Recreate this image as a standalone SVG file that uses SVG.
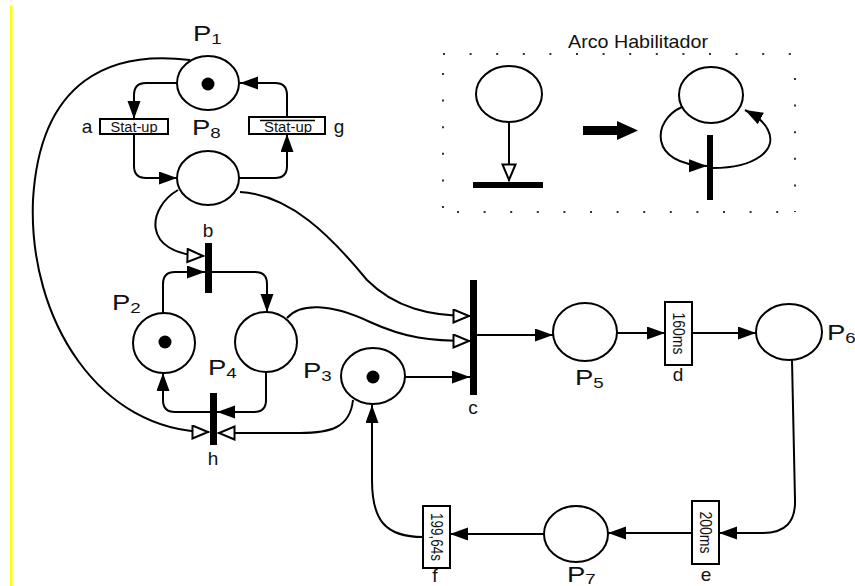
<svg xmlns="http://www.w3.org/2000/svg" width="855" height="586" viewBox="0 0 855 586">
<style>
.pl{fill:#fff;stroke:#000;stroke-width:2}
.tk{fill:#000}
.bar{fill:#000}
.box{fill:#fff;stroke:#000;stroke-width:2}
.ln{fill:none;stroke:#000;stroke-width:2}
.fa{marker-end:url(#fa)}
.ha{marker-end:url(#ha)}
.lab{font-family:"Liberation Sans",Arial,sans-serif;font-size:22px;fill:#111}
.sub{font-size:15px}
.tl{font-family:"Liberation Sans",Arial,sans-serif;font-size:19px;fill:#111;text-anchor:middle}
.st{font-family:"Liberation Sans",Arial,sans-serif;font-size:14px;fill:#111;text-anchor:middle}
.rt{font-family:"Liberation Sans",Arial,sans-serif;font-size:16px;fill:#111;text-anchor:middle}
.dot{fill:none;stroke:#333;stroke-width:2;stroke-dasharray:2 24.6}
</style>
<defs>
<marker id="fa" markerUnits="userSpaceOnUse" markerWidth="19" markerHeight="14" refX="18" refY="6.5" orient="auto">
<path d="M0,0 L18,6.5 L0,13 z" fill="#000"/>
</marker>
<marker id="ha" markerUnits="userSpaceOnUse" markerWidth="20" markerHeight="16" refX="18" refY="7.5" orient="auto">
<path d="M1.5,1 L17,7.5 L1.5,14 z" fill="#fff" stroke="#000" stroke-width="2"/>
</marker>
</defs>
<rect x="0" y="0" width="855" height="586" fill="#fff"/>
<rect x="10" y="5" width="2.5" height="581" fill="#ffff00"/>

<g id="connectors">
<path class="ln fa" d="M177,83 L146,83 Q134,83 134,95 L134,119"/>
<path class="ln fa" d="M134,134 L134,166 Q134,178 146,178 L177,178"/>
<path class="ln fa" d="M239,178 L275,178 Q287,178 287,166 L287,134"/>
<path class="ln fa" d="M287,117 L287,95 Q287,83 275,83 L240,83"/>
<path class="ln ha" d="M190,60 C110,50 40,80 33,200 C28,320 100,432 209,432"/>
<path class="ln ha" d="M178,190 C148,207 140,254 204,256"/>
<path class="ln fa" d="M163,313 L163,284 Q163,272 175,272 L205,272"/>
<path class="ln fa" d="M212,272 L255,272 Q267,272 267,284 L267,312"/>
<path class="ln fa" d="M266,372 L266,400 Q266,412 254,412 L217,412"/>
<path class="ln fa" d="M210,412 L175,412 Q163,412 163,400 L163,373"/>
<path class="ln ha" d="M353,400 C350,428 330,433 300,433 L218,433"/>
<path class="ln ha" d="M240,192 C290,195 330,235 367,280 C395,308 430,316 470,316"/>
<path class="ln ha" d="M287,318 C300,303 330,303 370,322 C405,338 430,341 470,341"/>
<path class="ln fa" d="M405,377 L470,377"/>
<path class="ln fa" d="M477,335 L553,335"/>
<path class="ln fa" d="M617,333 L665,333"/>
<path class="ln fa" d="M692,333 L756,333"/>
<path class="ln fa" d="M792,360 L795,500 Q796,533 763,533 L719,533"/>
<path class="ln fa" d="M692,533 L608,533"/>
<path class="ln fa" d="M544,534 L450,534"/>
<path class="ln fa" d="M423,537 C385,537 372,520 372,480 L372,405"/>
</g>

<g id="P1">
<ellipse class="pl" cx="208" cy="83" rx="31" ry="27"/>
<circle class="tk" cx="208" cy="84" r="6.5"/>
<text class="lab" transform="translate(193,41) scale(1.25,1)">P<tspan class="sub" dy="3">1</tspan></text>
</g>
<g id="P8">
<ellipse class="pl" cx="208" cy="178" rx="31" ry="27"/>
<text class="lab" transform="translate(192,135) scale(1.25,1)">P<tspan class="sub" dy="3">8</tspan></text>
</g>
<g id="a">
<rect class="box" x="100" y="119" width="68" height="15"/>
<text class="st" x="134" y="131.5" textLength="47" lengthAdjust="spacingAndGlyphs">Stat-up</text>
<text class="tl" x="87" y="133">a</text>
</g>
<g id="g">
<rect class="box" x="249" y="117" width="76" height="17"/>
<line x1="260" y1="120.5" x2="315" y2="120.5" stroke="#000" stroke-width="1.5"/>
<text class="st" x="288" y="132" textLength="48" lengthAdjust="spacingAndGlyphs">Stat-up</text>
<text class="tl" x="339" y="133">g</text>
</g>
<g id="b">
<rect class="bar" x="205" y="243" width="7" height="50"/>
<text class="tl" x="208" y="237">b</text>
</g>
<g id="P2">
<ellipse class="pl" cx="164" cy="343" rx="31" ry="30"/>
<circle class="tk" cx="165" cy="342" r="6.5"/>
<text class="lab" transform="translate(112,310) scale(1.25,1)">P<tspan class="sub" dy="3">2</tspan></text>
</g>
<g id="P4">
<ellipse class="pl" cx="266" cy="342" rx="31" ry="30"/>
<text class="lab" transform="translate(208,375) scale(1.25,1)">P<tspan class="sub" dy="3">4</tspan></text>
</g>
<g id="h">
<rect class="bar" x="210" y="393" width="7" height="52"/>
<text class="tl" x="213" y="465">h</text>
</g>
<g id="P3">
<ellipse class="pl" cx="373" cy="376" rx="32" ry="28"/>
<circle class="tk" cx="373" cy="377" r="6.5"/>
<text class="lab" transform="translate(303,378) scale(1.25,1)">P<tspan class="sub" dy="3">3</tspan></text>
</g>
<g id="c">
<rect class="bar" x="470" y="280" width="7" height="115"/>
<text class="tl" x="473" y="414">c</text>
</g>
<g id="P5">
<ellipse class="pl" cx="585" cy="332" rx="32" ry="29"/>
<text class="lab" transform="translate(575,385) scale(1.25,1)">P<tspan class="sub" dy="3">5</tspan></text>
</g>
<g id="d">
<rect class="box" x="665" y="302" width="27" height="63"/>
<text class="rt" transform="translate(678.5,333.5) rotate(90)" x="0" y="5.5" textLength="42" lengthAdjust="spacingAndGlyphs">160ms</text>
<text class="tl" x="678" y="381">d</text>
</g>
<g id="P6">
<ellipse class="pl" cx="789" cy="332" rx="33" ry="28"/>
<text class="lab" transform="translate(827,340) scale(1.25,1)">P<tspan class="sub" dy="3">6</tspan></text>
</g>
<g id="e">
<rect class="box" x="692" y="501" width="27" height="63"/>
<text class="rt" transform="translate(705.5,532.5) rotate(90)" x="0" y="5.5" textLength="42" lengthAdjust="spacingAndGlyphs">200ms</text>
<text class="tl" x="706" y="581">e</text>
</g>
<g id="P7">
<ellipse class="pl" cx="576" cy="534" rx="32" ry="28"/>
<text class="lab" transform="translate(567,582) scale(1.25,1)">P<tspan class="sub" dy="2">7</tspan></text>
</g>
<g id="f">
<rect class="box" x="423" y="506" width="27" height="62"/>
<text class="rt" transform="translate(436.5,537) rotate(90)" x="0" y="5.5" textLength="48" lengthAdjust="spacingAndGlyphs">199,64s</text>
<text class="tl" x="435" y="582">f</text>
</g>

<g id="legend">
<text x="638" y="48" font-family="Liberation Sans, Arial, sans-serif" font-size="19" fill="#111" text-anchor="middle" textLength="140" lengthAdjust="spacingAndGlyphs">Arco Habilitador</text>
<path class="dot" d="M443,54 L796,54"/>
<path class="dot" d="M457,212 L796,212"/>
<path class="dot" d="M443,73 L443,212"/>
<path class="dot" d="M795,78 L795,212"/>
<ellipse class="pl" cx="509" cy="94" rx="33" ry="28"/>
<path class="ln ha" d="M509,122 L509,181"/>
<rect class="bar" x="473" y="182" width="70" height="6"/>
<rect class="bar" x="583" y="126" width="36" height="9"/>
<polygon class="bar" points="617,121 638,130.5 617,140"/>
<ellipse class="pl" cx="711" cy="95" rx="32" ry="28"/>
<rect class="bar" x="707" y="135" width="6" height="65"/>
<path class="ln fa" d="M682,107 C652,120 648,165 707,166"/>
<path class="ln fa" d="M713,168 C755,168 778,150 768,130 C764,122 758,117 745,110"/>
</g>
</svg>
